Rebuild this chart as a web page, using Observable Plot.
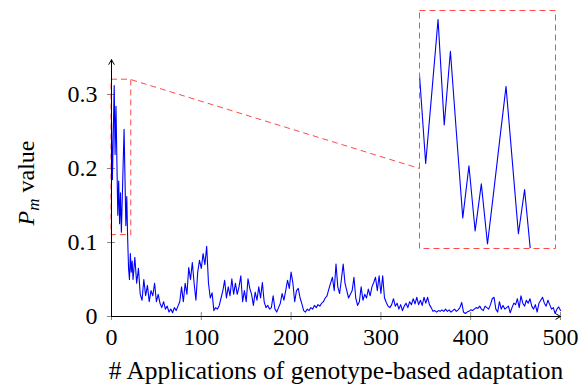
<!DOCTYPE html>
<html><head><meta charset="utf-8">
<script src="https://cdn.jsdelivr.net/npm/d3@7"></script>
<script src="https://cdn.jsdelivr.net/npm/@observablehq/plot@0.6"></script>
<style>
html,body{margin:0;padding:0;background:#fff;}
#chart{position:relative;width:588px;height:387px;overflow:hidden;background:#fff;}
#inset{position:absolute;left:418px;top:9px;}
#chart text{font-family:"Liberation Serif","Times New Roman",Times,"DejaVu Serif",serif !important;}
</style></head><body><div id="chart"></div>
<script>
// P_m values, x = 0..23 (step 1)
const early = [0.263,0.185,0.248,0.312,0.219,0.284,0.21,0.137,0.183,0.1255,
  0.167,0.114,0.160,0.207,0.253,0.188,0.123,0.162,0.105,0.065,
  0.05,0.085,0.06,0.075];
// P_m values, x = 24..500 (step 2)
const late = [
  0.05,0.08,0.045,0.065,0.03,0.022,0.05,0.028,0.042,0.02,
  0.035,0.028,0.045,0.02,0.03,0.018,0.012,0.02,0.01,0.014,
  0.006,0.01,0.005,0.012,0.008,0.014,0.02,0.04,0.02,0.045,
  0.03,0.066,0.05,0.073,0.045,0.022,0.06,0.076,0.065,0.085,
  0.07,0.095,0.045,0.025,0.032,0.008,0.012,0.01,0.015,0.025,
  0.035,0.049,0.025,0.04,0.028,0.051,0.03,0.045,0.03,0.04,
  0.055,0.02,0.035,0.02,0.051,0.038,0.03,0.015,0.033,0.022,
  0.04,0.025,0.046,0.02,0.012,0.015,0.01,0.012,0.028,0.01,
  0.006,0.012,0.018,0.031,0.022,0.035,0.049,0.038,0.06,0.045,
  0.02,0.035,0.038,0.025,0.017,0.008,0.006,0.01,0.008,0.012,
  0.01,0.015,0.012,0.016,0.014,0.018,0.02,0.025,0.028,0.037,
  0.045,0.053,0.035,0.071,0.04,0.031,0.05,0.071,0.045,0.035,
  0.025,0.03,0.035,0.053,0.025,0.015,0.02,0.04,0.022,0.03,
  0.025,0.037,0.028,0.04,0.046,0.053,0.035,0.055,0.031,0.055,
  0.025,0.019,0.014,0.012,0.016,0.024,0.014,0.018,0.01,0.016,
  0.008,0.014,0.018,0.012,0.02,0.016,0.024,0.017,0.026,0.016,
  0.022,0.015,0.026,0.018,0.026,0.016,0.012,0.007,0.008,0.006,
  0.008,0.007,0.009,0.007,0.01,0.007,0.009,0.006,0.008,0.01,
  0.007,0.009,0.012,0.019,0.006,0.004,0.006,0.007,0.009,0.008,
  0.01,0.012,0.011,0.014,0.01,0.008,0.014,0.012,0.01,0.016,
  0.024,0.026,0.01,0.006,0.02,0.01,0.015,0.01,0.012,0.014,
  0.005,0.012,0.018,0.016,0.024,0.012,0.028,0.018,0.014,0.022,
  0.018,0.024,0.014,0.01,0.016,0.006,0.018,0.022,0.026,0.018,
  0.014,0.022,0.016,0.01,0.012,0.004,0.01,0.013,0.008];
const xTicks = [0,100,200,300,400,500];
const yTicks = [0,0.1,0.2,0.3];
const yTickLabels = ["0","0.1","0.2","0.3"];
const xLabel = "# Applications of genotype-based adaptation";
const yLabelVar = "P", yLabelSub = "m", yLabelRest = " value";
const zoomBox = [{x1:0,x2:22,y1:0.11,y2:0.32}];
const connector = [{x1:22,y1:0.32,x2:343,y2:0.2}];
const axisArrows = [{x1:0,y1:0,x2:500,y2:0},{x1:0,y1:0,x2:0,y2:0.347}];

const series = early.map((y,i)=>({x:i,y})).concat(late.map((y,i)=>({x:24+2*i,y})));

const W=588,H=387,mL=111,mR=28,mT=57,mB=71;
const fw=W-mL-mR, fh=H-mT-mB;
const red="#ff4a4a";
const main = Plot.plot({
  width:W,height:H,marginLeft:mL,marginRight:mR,marginTop:mT,marginBottom:mB,
  style:{background:"white",overflow:"visible"},
  x:{domain:[0,500]},
  y:{domain:[0,0.35]},
  marks:[
    Plot.tickX(xTicks,{x:d=>d,insetTop:fh-4,insetBottom:-4,stroke:"#888"}),
    Plot.tickY(yTicks,{y:d=>d,insetLeft:-4,insetRight:fw-4,stroke:"#888"}),
    Plot.axisX({ticks:xTicks,tickSize:0,tickPadding:11,label:null,tickFormat:d=>String(d),fill:"black",fontSize:24}),
    Plot.axisY({ticks:yTicks,tickSize:0,tickPadding:14,label:null,tickFormat:d=>yTickLabels[yTicks.indexOf(d)],fill:"black",fontSize:24}),
    Plot.line(series,{x:"x",y:"y",stroke:"#0000ff",strokeWidth:1.1}),
    Plot.rect(zoomBox,{x1:"x1",x2:"x2",y1:"y1",y2:"y2",fill:"none",stroke:red,strokeDasharray:"6,4"}),
    Plot.link(connector,{x1:"x1",y1:"y1",x2:"x2",y2:"y2",stroke:red,strokeDasharray:"6,4"}),
    Plot.arrow(axisArrows,{x1:"x1",y1:"y1",x2:"x2",y2:"y2",stroke:"black",strokeWidth:1,headLength:8})
  ]
});
const svg = d3.select(main);
svg.append("text").attr("x",336).attr("y",379).attr("text-anchor","middle")
  .attr("font-size",25.5).attr("fill","black").text(xLabel);
const yl = svg.append("text").attr("transform","translate(34,183) rotate(-90)")
  .attr("text-anchor","middle").attr("font-size",24).attr("fill","black");
yl.append("tspan").attr("font-style","italic").text(yLabelVar);
yl.append("tspan").attr("font-style","italic").attr("font-size",17).attr("dy",5).text(yLabelSub);
yl.append("tspan").attr("dy",-5).text(yLabelRest);
document.getElementById("chart").appendChild(main);

const inset = Plot.plot({
  width:138,height:240,margin:1,
  x:{domain:[0,22],axis:null},
  y:{domain:[0.11,0.32],axis:null},
  style:{background:"transparent"},
  marks:[
    Plot.line(series.filter(d=>d.x<=26),{x:"x",y:"y",stroke:"#0000ff",strokeWidth:1.1,clip:true}),
    Plot.frame({stroke:red,strokeDasharray:"6,4"})
  ]
});
inset.id="inset";
document.getElementById("chart").appendChild(inset);
</script></body></html>
